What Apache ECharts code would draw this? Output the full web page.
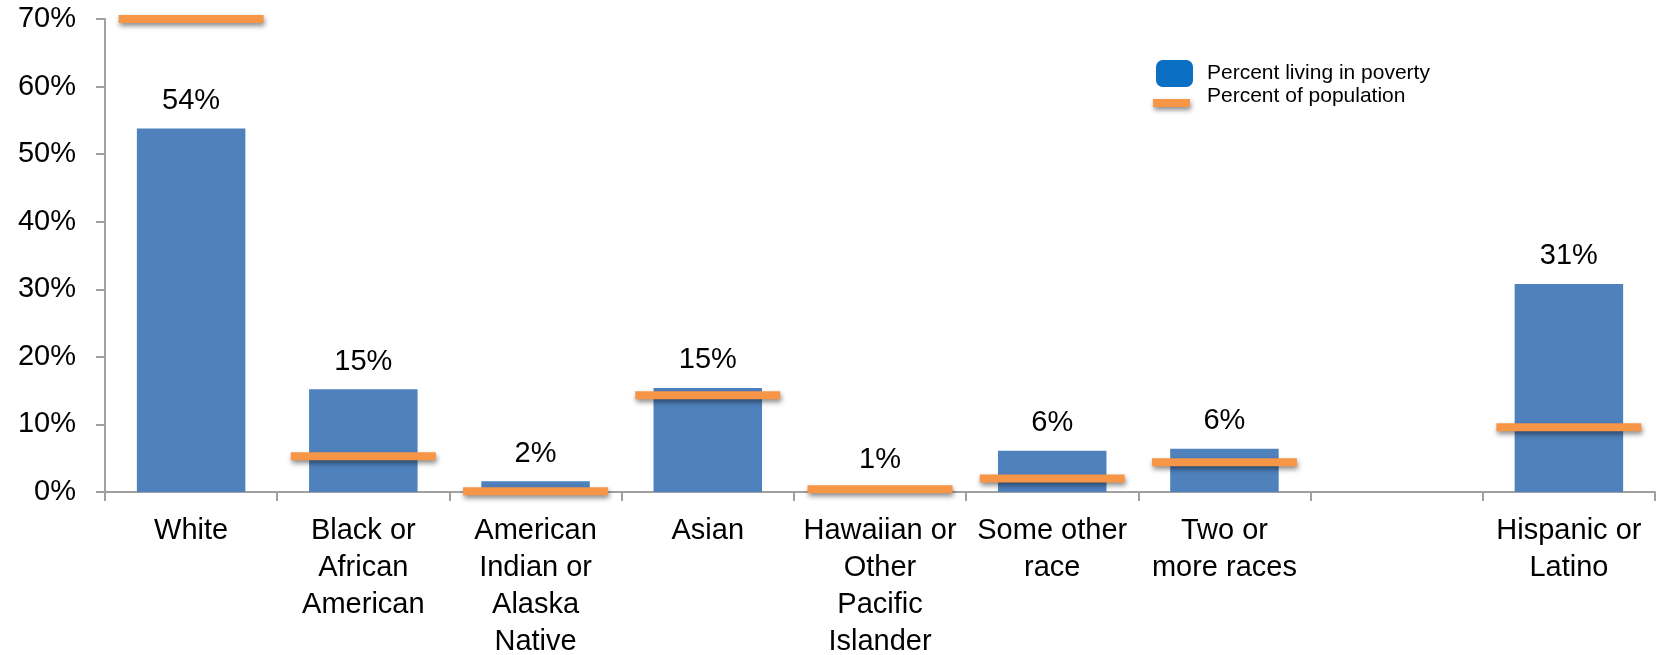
<!DOCTYPE html>
<html>
<head>
<meta charset="utf-8">
<script src="https://cdn.jsdelivr.net/npm/echarts@6/dist/echarts.min.js"></script>
<style>
html,body{margin:0;padding:0;background:#fff;}
#chart{width:1665px;height:655px;}
</style>
</head>
<body>
<div id="chart"></div>
<script>
const categories = [
  'White',
  'Black or\nAfrican\nAmerican',
  'American\nIndian or\nAlaska\nNative',
  'Asian',
  'Hawaiian or\nOther\nPacific\nIslander',
  'Some other\nrace',
  'Two or\nmore races',
  '',
  'Hispanic or\nLatino'
];
const povertyPct = [53.8, 15.2, 1.6, 15.4, 0.7, 6.1, 6.4, null, 30.8];
const populationPct = [70, 5.3, 0.1, 14.3, 0.4, 2.0, 4.4, null, 9.6];
const yTicks = [0, 10, 20, 30, 40, 50, 60, 70];

const FONT = '"Liberation Sans", Arial, sans-serif';
const chart = echarts.init(document.getElementById('chart'));
chart.setOption({
  animation: false,
  backgroundColor: '#ffffff',
  textStyle: { fontFamily: FONT, color: '#000' },
  grid: { left: 105, right: 10, top: 19, bottom: 163, containLabel: false, outerBoundsMode: 'none' },
  legend: [
    {
      left: 1156, top: 60, orient: 'vertical', padding: 0,
      itemWidth: 37, itemHeight: 27,
      data: [{ name: 'Percent living in poverty', icon: 'roundRect', itemStyle: { color: '#0B6FC4' } }],
      textStyle: { fontFamily: FONT, fontSize: 21, color: '#000', padding: [0, 0, 2, 9] }
    },
    {
      left: 1153, top: 86, orient: 'vertical', padding: 0,
      itemWidth: 37, itemHeight: 21,
      data: [{ name: 'Percent of population',
               icon: 'path://M0,0L37,0L37,0.01Z M0,13H37V21H0Z',
               itemStyle: { color: '#F79646', opacity: 1, borderWidth: 0, shadowColor: 'rgba(0,0,0,0.45)', shadowBlur: 5, shadowOffsetX: 1, shadowOffsetY: 3 } }],
      textStyle: { fontFamily: FONT, fontSize: 21, color: '#000', padding: [0, 0, 0, 12] }
    }
  ],
  xAxis: {
    type: 'category',
    data: categories,
    boundaryGap: true,
    axisLine: { lineStyle: { color: '#A0A0A0', width: 2 } },
    axisTick: { show: true, length: 9, lineStyle: { color: '#A0A0A0', width: 2 } },
    axisLabel: { interval: 0, fontFamily: FONT, fontSize: 29, color: '#000', lineHeight: 37, margin: 20 }
  },
  yAxis: {
    type: 'value',
    min: yTicks[0],
    max: yTicks[yTicks.length - 1],
    interval: 10,
    splitLine: { show: false },
    axisLine: { show: true, lineStyle: { color: '#A0A0A0', width: 2 } },
    axisTick: { show: true, length: 9, lineStyle: { color: '#A0A0A0', width: 2 } },
    axisLabel: { fontFamily: FONT, fontSize: 29, color: '#000', margin: 29, formatter: '{value}%' }
  },
  series: [
    {
      name: 'Percent living in poverty',
      type: 'bar',
      data: povertyPct,
      barWidth: '63%',
      itemStyle: { color: '#4F81BD' },
      label: {
        show: true, position: 'top', distance: 13,
        fontFamily: FONT, fontSize: 29, color: '#000',
        formatter: p => Math.round(p.value) + '%'
      },
      z: 2
    },
    {
      name: 'Percent of population',
      type: 'scatter',
      data: populationPct,
      symbol: 'rect',
      symbolSize: [145, 8],
      clip: false,
      itemStyle: {
        color: '#F79646', opacity: 1,
        shadowColor: 'rgba(0,0,0,0.45)', shadowBlur: 5, shadowOffsetX: 1, shadowOffsetY: 3
      },
      z: 3
    }
  ]
});
</script>
</body>
</html>
